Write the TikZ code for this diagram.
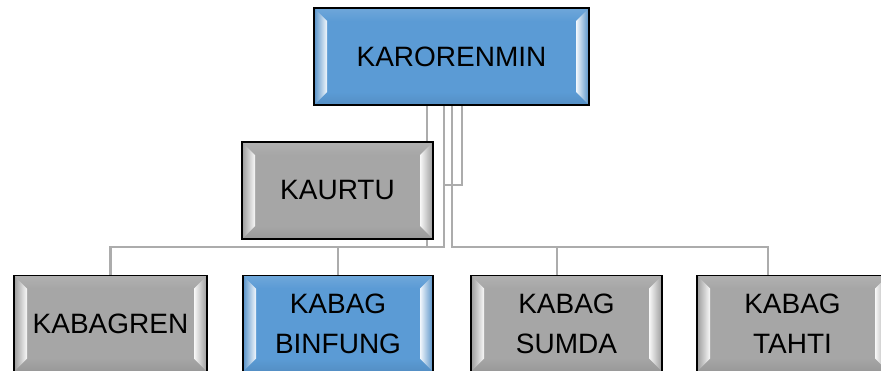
\documentclass[tikz,border=0pt]{standalone}
\usepackage{fontspec}
\setmainfont{Liberation Sans}
\usetikzlibrary{calc,backgrounds}
\definecolor{boxblue}{RGB}{91,155,213}
\definecolor{boxgray}{RGB}{166,166,166}
\definecolor{linegray}{RGB}{172,172,172}
\newlength{\bev}
\setlength{\bev}{13pt}
\tikzset{orgbox/.style={draw=black, line width=1.6pt, fill=#1,
    minimum width=191pt, minimum height=96pt, inner sep=0pt,
    align=center, font=\fontsize{28}{40}\selectfont,
    path picture={
      \coordinate (bsw) at (path picture bounding box.south west);
      \coordinate (bne) at (path picture bounding box.north east);
      \coordinate (bnw) at (bsw |- bne);
      \coordinate (bse) at (bne |- bsw);
      \coordinate (isw) at ($(bsw)+(\bev,\bev)$);
      \coordinate (ine) at ($(bne)+(-\bev,-\bev)$);
      \coordinate (inw) at ($(bnw)+(\bev,-\bev)$);
      \coordinate (ise) at ($(bse)+(-\bev,\bev)$);
      \shade[top color=white!12!#1, bottom color=#1]
        (bnw) -- (inw) -- (ine) -- (bne) -- cycle;
      \shade[top color=#1, bottom color=black!8!#1]
        (bsw) -- (isw) -- (ise) -- (bse) -- cycle;
      \shade[left color=black!6!#1, right color=white!92!#1]
        (bsw) -- (isw) -- (inw) -- (bnw) -- cycle;
      \shade[left color=white!92!#1, right color=black!6!#1]
        (bse) -- (ise) -- (ine) -- (bne) -- cycle;
    }}}

\begin{document}
\begin{tikzpicture}[x=1pt,y=-1pt,
    conn/.style={draw=linegray, line width=2.6pt}]
\useasboundingbox (0,0) rectangle (881,370);

\node[orgbox=boxblue, minimum width=275pt, minimum height=97pt] (karorenmin) at (451.5,56.5) {KARORENMIN};
\node[orgbox=boxgray, minimum height=97pt] (kaurtu) at (337.5,190.5) {KAURTU};
\node[orgbox=boxgray, minimum width=193pt] (kabagren) at (110.5,323.5) {KABAGREN};
\node[orgbox=boxblue, minimum width=190pt] (binfung) at (338,323.5) {KABAG\\BINFUNG};
\node[orgbox=boxgray] (sumda) at (566.5,323.5) {KABAG\\SUMDA};
\node[orgbox=boxgray] (tahti) at (792.5,323.5) {KABAG\\TAHTI};

% connectors, drawn behind the boxes
\begin{scope}[on background layer]
  \coordinate (aux) at (427,247);
  \coordinate (busL) at (444,247);
  \coordinate (busR) at (452,247);
  \coordinate (asst) at (462,185);
  \coordinate (dropS) at ([xshift=-9.5pt]sumda.north);
  \coordinate (dropT) at ([xshift=-24.5pt]tahti.north);
  \draw[conn] (karorenmin.south -| aux) -- (aux);
  \draw[conn] (karorenmin.south -| busL) -- (busL) -| (kabagren.north);
  \draw[conn] (binfung.north |- busL) -- (binfung.north);
  \draw[conn] (karorenmin.south -| busR) -- (busR) -| (dropT);
  \draw[conn] (dropS |- busR) -- (dropS);
  \draw[conn] (karorenmin.south -| asst) -- (asst) -- (asst -| busL);
\end{scope}
\end{tikzpicture}
\end{document}
